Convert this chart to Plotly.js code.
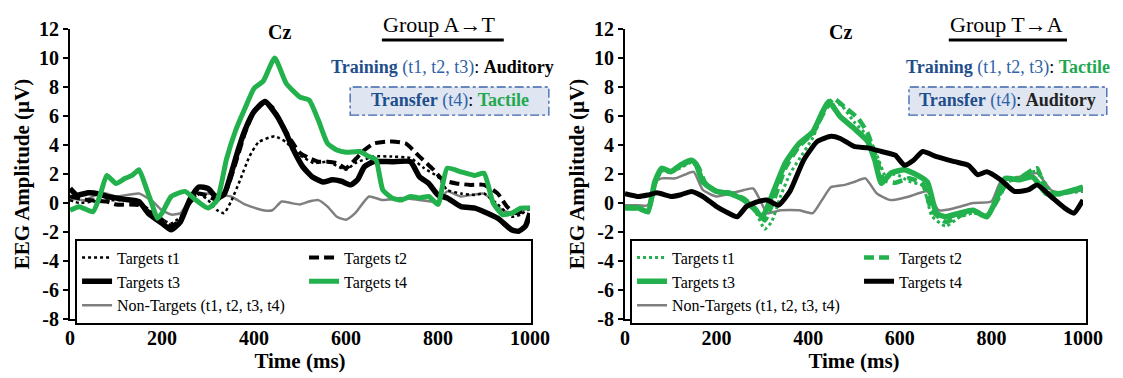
<!DOCTYPE html>
<html>
<head>
<meta charset="utf-8">
<script src="https://cdn.plot.ly/plotly-3.0.1.min.js"></script>
<style>
html,body{margin:0;padding:0;background:#fff;}
#wrap{width:1123px;height:378px;white-space:nowrap;font-size:0;}
#left{display:inline-block;width:560px;height:378px;}
#right{display:inline-block;width:563px;height:378px;}
</style>
</head>
<body>
<div id="wrap"><div id="left"></div><div id="right"></div></div>
<script>
// ---------- Group A->T (left) ----------
const L_t1_x = [0,20,50,100,150,180,200,220,240,260,280,300,320,335,350,370,390,410,445,470,490,510,530,560,600,620,660,700,740,770,800,820,850,880,900,930,960,980,1000];
const L_t1_y = [0.2,0,0.1,0.2,0.1,-0.7,-1.15,-1.4,-0.95,0.1,0.65,0.2,-0.5,-0.7,0.1,1.6,3.2,4.2,4.6,4.2,3.5,3.1,2.75,2.85,2.3,2.75,3.2,3.2,3.1,2.4,1.8,0.9,0.65,0.55,0.65,-0.1,-0.95,-0.8,-0.25];

const L_t2_x = [0,40,80,100,150,180,200,220,240,260,280,300,320,340,360,380,400,420,440,460,480,500,520,540,560,580,600,620,640,660,700,730,760,790,810,840,870,900,930,950,970,1000];
const L_t2_y = [0.45,0.2,0.1,-0.1,-0.15,-0.8,-1.15,-1.6,-1.15,0,0.65,0.45,0.2,0.9,2.75,4.8,6.3,7.0,6.6,5.5,4.35,3.45,3.1,2.85,2.85,2.75,2.4,3.0,3.65,4.1,4.25,4.1,3.2,2.3,1.6,1.35,1.25,1.25,0.65,-0.25,-0.7,-0.35];

const L_t3_x = [0,15,40,60,80,100,120,150,170,200,220,240,260,280,300,320,335,350,365,380,400,424,450,470,486,506,527,550,570,590,610,625,640,660,700,740,760,780,800,820,850,880,900,930,960,975,990,1000];
const L_t3_y = [1.0,0.55,0.7,0.65,0.45,0.35,0.25,0.1,-0.7,-1.4,-1.85,-1.3,0.2,1.1,1.0,0.35,0.6,2.0,3.6,5.0,6.3,7.0,6.0,4.8,3.65,2.5,1.8,1.45,1.6,1.5,1.25,1.6,2.5,2.85,2.85,2.85,1.8,1.35,0.55,0.35,-0.25,-0.35,-0.6,-1.05,-1.85,-1.95,-1.6,-0.7];

const L_t4_x = [0,20,50,65,80,100,120,135,150,165,180,190,200,220,250,270,300,320,340,360,380,400,420,445,470,500,520,540,560,580,600,630,650,665,680,700,720,740,760,780,800,820,850,880,900,920,940,960,980,1000];
const L_t4_y = [-0.5,-0.25,-0.6,0.5,1.9,1.35,1.7,1.9,2.3,1.1,-0.25,-1.05,-0.7,0.45,0.8,0.3,-0.35,0.2,3.0,5.0,6.5,7.9,8.4,10.0,8.25,7.3,7.1,5.7,4.1,3.65,3.5,3.55,3.2,3.0,0.9,0.35,0.2,0.45,0.35,0.45,-0.1,2.4,2.15,1.9,2.05,0,-0.8,-0.7,-0.35,-0.35];

const L_nt_x = [0,30,70,100,150,180,200,220,240,270,300,350,380,420,440,460,480,500,520,540,560,580,600,620,650,680,720,760,800,820,850,900,940,970,1000];
const L_nt_y = [0.35,0.2,0.7,0.45,0.65,0.1,-0.5,-0.8,-0.7,0.65,0.65,0.45,-0.1,-0.5,-0.5,0.1,0,-0.1,0.1,0.2,-0.25,-0.95,-1.15,-0.7,0.45,0.2,0.35,0.2,0.1,0.8,0.45,0.65,-0.5,-0.7,-0.25];

// ---------- Group T->A (right) ----------
const R_t1_x = [0,30,50,65,80,100,120,145,160,175,200,230,260,285,305,320,340,360,380,410,440,470,500,530,550,570,590,620,650,670,700,730,760,790,820,840,870,900,930,960,1000];
const R_t1_y = [-0.3,-0.35,-0.6,1.2,2.2,2.1,2.4,2.8,2.4,1.3,0.8,0.6,0.2,-0.6,-1.8,-1.3,0.5,2.0,3.0,4.5,6.6,6.8,5.6,4.6,3.3,1.8,2.0,1.5,1.2,-0.9,-1.6,-1.0,-0.7,-0.8,0.6,1.6,1.9,2.2,0.8,0.7,0.8];

const R_t2_x = [0,30,50,65,80,100,120,145,160,175,200,230,260,285,305,325,350,380,410,430,455,480,510,530,550,565,590,620,650,670,700,730,760,790,815,835,860,890,900,920,950,980,1000];
const R_t2_y = [-0.3,-0.4,-0.6,1.3,2.3,2.2,2.5,2.9,2.5,1.4,0.8,0.7,0.3,-0.4,-1.2,0.2,2.4,3.9,4.8,6.0,7.2,6.6,5.8,4.8,3.0,1.6,1.4,1.7,1.3,-0.5,-1.3,-0.9,-0.5,-0.9,0.3,1.5,1.7,2.3,2.4,0.9,0.6,0.9,1.0];

const R_t3_x = [0,30,50,65,80,100,120,145,155,170,200,230,260,280,300,320,350,380,410,430,445,470,500,530,545,560,580,610,630,660,680,700,730,760,790,810,830,860,890,920,950,980,1000];
const R_t3_y = [-0.35,-0.35,-0.6,1.45,2.4,2.15,2.6,2.95,2.7,1.45,0.8,0.65,0.2,-0.35,-0.95,0.45,2.75,4.1,4.9,6.2,7.0,5.95,5.15,4.25,3.0,1.35,2.05,2.3,2.05,1.45,-0.7,-0.95,-0.7,-0.5,-0.95,0.2,1.7,1.6,1.8,0.65,0.65,0.9,1.1];

const R_t4_x = [0,30,50,70,100,120,145,170,200,220,245,265,290,310,335,360,390,420,450,470,500,530,560,590,610,630,650,680,720,750,770,790,820,850,880,900,930,960,980,1000];
const R_t4_y = [0.65,0.45,0.55,0.7,0.45,0.55,0.8,0.45,-0.25,-0.6,-0.95,-0.25,0.1,0.2,-0.15,0.8,2.95,4.25,4.6,4.45,3.9,3.8,3.55,3.3,2.6,2.95,3.55,3.2,2.85,2.6,1.95,2.15,1.6,0.8,0.9,1.25,0.45,-0.35,-0.7,0.2];

const R_nt_x = [0,20,50,65,80,110,130,150,170,200,230,260,280,295,310,340,380,410,430,450,480,500,525,550,580,620,660,685,720,760,800,820,860,900,930,960,1000];
const R_nt_y = [-0.15,-0.15,-0.15,1.45,1.7,1.7,1.95,2.15,0.9,0.45,0.65,0.9,1.0,0.2,-0.7,-0.5,-0.5,-0.7,0.2,1.1,1.25,1.45,1.7,0.65,0.2,0.45,0.8,-0.5,-0.35,0,0.1,1.45,1.8,2.05,0.9,0.65,0.9];

// tick labels
const xTicks = [0,200,400,600,800,1000];
const yTicks = [-8,-6,-4,-2,0,2,4,6,8,10,12];
const legendNames = ['Targets t1','Targets t2','Targets t3','Targets t4','Non-Targets (t1, t2, t3, t4)'];

const GREEN = '#22b14c';
const BLACK = '#000000';
const GRAY = '#7f7f7f';
const SERIF = 'Liberation Serif, Times New Roman, serif';

function tr(x, y, name, color, width, dash, rank) {
  return {type:'scatter', mode:'lines', x:x, y:y, name:name, legendrank:rank,
          line:{color:color, width:width, dash:dash, shape:'spline', smoothing:0.5}};
}

function axes() {
  return {
    xaxis:{range:[0,1000], tickvals:xTicks, ticktext:xTicks.map(String), showgrid:false, zeroline:false,
           showline:true, linecolor:'black', linewidth:2, ticks:'inside', ticklen:4, tickwidth:1.5, tickcolor:'black',
           tickfont:{family:SERIF, size:20, color:'black', weight:'bold'},
           title:{text:'<b>Time (ms)</b>', font:{family:SERIF, size:21, color:'black'}, standoff:4}},
    yaxis:{range:[-8,12], tickvals:yTicks, ticktext:yTicks.map(String), showgrid:false, zeroline:false,
           showline:true, linecolor:'black', linewidth:2, ticks:'outside', ticklen:5, tickwidth:2, tickcolor:'black',
           tickfont:{family:SERIF, size:20, color:'black', weight:'bold'},
           title:{text:'<b>EEG Amplitude (µV)</b>', font:{family:SERIF, size:21, color:'black'}, standoff:4}}
  };
}

function legendCfg() {
  return {orientation:'h', x:0.011, y:0.277, xanchor:'left', yanchor:'top', bgcolor:'white',
          bordercolor:'black', borderwidth:2, entrywidth:182, itemwidth:30,
          font:{family:SERIF, size:16, color:'black'}};
}

function annots(groupText, trainColorWord, trainWord, transferWord, transferColor, cx, gx) {
  const blue = '#1f4e8c';
  const lblue = '#2f62a8';
  const base = {xref:'paper', yref:'paper', showarrow:false, xanchor:'center', yanchor:'middle'};
  return [
    Object.assign({x:cx, y:0.99, text:'<b>Cz</b>', font:{family:SERIF, size:20, color:'black'}}, base),
    Object.assign({x:gx.g, y:1.015, text:groupText, font:{family:SERIF, size:22, color:'black'}}, base),
    Object.assign({x:gx.t, y:0.866,
     text:'<b><span style="color:'+blue+'">Training</span></b> <span style="color:'+lblue+'">(t1, t2, t3)</span>: <b><span style="color:'+trainColorWord+'">'+trainWord+'</span></b>',
     font:{family:SERIF, size:18, color:'black'}}, base),
    Object.assign({x:gx.b, y:0.752,
     text:'<b><span style="color:'+blue+'">Transfer</span></b> <span style="color:'+lblue+'">(t4)</span>: <b><span style="color:'+transferColor+'">'+transferWord+'</span></b>',
     font:{family:SERIF, size:18, color:'black'}}, base)
  ];
}

function shapes(u0, u1, b0, b1) {
  return [
    {type:'line', xref:'paper', yref:'paper', x0:u0, x1:u1, y0:0.962, y1:0.962, line:{color:'black', width:3}},
    {type:'rect', xref:'paper', yref:'paper', x0:b0, x1:b1, y0:0.703, y1:0.8, fillcolor:'#dfe5f1',
     line:{color:'#3b64aa', width:1.3, dash:'dashdot'}, layer:'below'}
  ];
}

// Left figure
const leftData = [
  tr(L_nt_x, L_nt_y, legendNames[4], GRAY, 2.5, 'solid', 5),
  tr(L_t1_x, L_t1_y, legendNames[0], BLACK, 2.5, 'dot', 1),
  tr(L_t2_x, L_t2_y, legendNames[1], BLACK, 4, '10px,5px', 2),
  tr(L_t3_x, L_t3_y, legendNames[2], BLACK, 5.5, 'solid', 3),
  tr(L_t4_x, L_t4_y, legendNames[3], GREEN, 5, 'solid', 4)
];
const leftLayout = Object.assign({
  width:560, height:378, margin:{l:70, r:30, t:29, b:59},
  paper_bgcolor:'white', plot_bgcolor:'white', showlegend:true,
  legend:legendCfg(),
  annotations:annots('Group A→T', BLACK, 'Auditory', 'Tactile', '#1fa84f', 0.4565, {g:0.802, t:0.809, b:0.825}),
  shapes:shapes(0.678, 0.943, 0.609, 1.041)
}, axes());

// Right figure
const rightData = [
  tr(R_nt_x, R_nt_y, legendNames[4], GRAY, 2.5, 'solid', 5),
  tr(R_t1_x, R_t1_y, legendNames[0], GREEN, 3, 'dot', 1),
  tr(R_t2_x, R_t2_y, legendNames[1], GREEN, 4.5, '10px,5px', 2),
  tr(R_t3_x, R_t3_y, legendNames[2], GREEN, 5.5, 'solid', 3),
  tr(R_t4_x, R_t4_y, legendNames[3], BLACK, 5, 'solid', 4)
];
const rightLayout = Object.assign({
  width:563, height:378, margin:{l:65, r:40, t:29, b:59},
  paper_bgcolor:'white', plot_bgcolor:'white', showlegend:true,
  legend:legendCfg(),
  annotations:annots('Group T→A', '#1fa84f', 'Tactile', 'Auditory', '#222222', 0.4716, {g:0.832, t:0.836, b:0.836}),
  shapes:shapes(0.707, 0.965, 0.620, 1.052)
}, axes());

Plotly.newPlot('left', leftData, leftLayout, {displayModeBar:false, staticPlot:true});
Plotly.newPlot('right', rightData, rightLayout, {displayModeBar:false, staticPlot:true});
</script>
</body>
</html>
